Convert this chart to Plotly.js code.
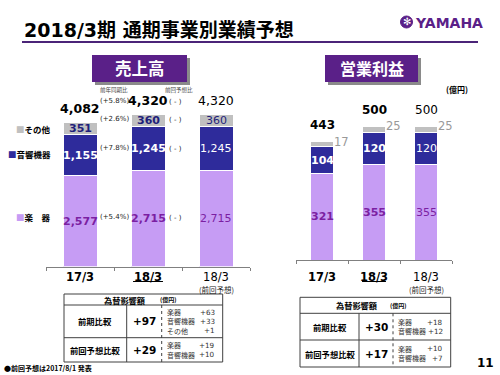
<!DOCTYPE html>
<html>
<head>
<meta charset="utf-8">
<script src="https://cdn.plot.ly/plotly-3.0.1.min.js"></script>
<style>html,body{margin:0;padding:0;background:#fff;}#chart{width:500px;height:375px;}</style>
</head>
<body>
<div id="chart"></div>
<script>
// ---------- data ----------
const categories = ['17/3', '18/3', '18/3予想'];
const tickLabels = ['<b>17/3</b>', '<b>18/3</b>', '18/3'];
const prevForecastNote = '(前回予想)';
const seriesNames = ['楽　器', '音響機器', 'その他'];

const salesInstruments = [2577, 2715, 2715];
const salesAudio = [1155, 1245, 1245];
const salesOther = [351, 360, 360];
const salesTotal = [4082, 4320, 4320];

const opInstruments = [321, 355, 355];
const opAudio = [104, 120, 120];
const opOther = [17, 25, 25];
const opTotal = [443, 500, 500];

// growth labels (18/3 vs 17/3 and vs previous forecast): total, other, audio, instruments
const yoyLabels = ['(+5.8%)', '(+2.6%)', '(+7.8%)', '(+5.4%)'];
const vsPrevLabels = ['( - )', '( - )', '( - )', '( - )'];

const titleText = '2018/3期 通期事業別業績予想';
const salesHeader = '売上高';
const opHeader = '営業利益';
const unitText = '(億円)';

// FX impact tables
const fxHeader = '為替影響額';
const fxRowNames = ['前期比較', '前回予想比較'];
const fxSalesTotal = ['+97', '+29'];
const fxSalesNames = [['楽器', '音響機器', 'その他'], ['楽器', '音響機器']];
const fxSalesVals = [['+63', '+33', '+1'], ['+19', '+10']];
const fxOpTotal = ['+30', '+17'];
const fxOpNames = [['楽器', '音響機器'], ['楽器', '音響機器']];
const fxOpVals = [['+18', '+12'], ['+10', '+7']];

const footnote = '●前回予想は2017/8/1 発表';
const pageNo = '11';

// ---------- styles ----------
const C_INST = '#C69CF4', C_AUDIO = '#2E2B9B', C_OTHER = '#C0C0C0';
const T_INST = '#7B1FA2', T_AUDIO = '#FFFFFF', T_OTHER = '#1F1F7A';
const PURPLE = '#5A2088';
const JP = '"Noto Sans CJK JP", sans-serif';
const NUM = '"DejaVu Sans", "Noto Sans CJK JP", sans-serif';
const W = 500, H = 375;
const px = v => v / W, py = v => 1 - v / H;
const fmt = v => v.toLocaleString('en-US');

function pann(text, x, y, size, opt) {
  opt = opt || {};
  return Object.assign({
    text: text, xref: 'paper', yref: 'paper', x: px(x), y: py(y), showarrow: false,
    xanchor: 'center', yanchor: 'middle',
    font: {family: opt.family || JP, size: size, color: opt.color || '#000'}
  }, opt.extra || {});
}

// ---------- traces ----------
function bar(x, y, color, xa, ya, width) {
  return {type: 'bar', x: x, y: y, xaxis: xa, yaxis: ya, width: width,
    marker: {color: color, line: {color: '#fff', width: 1}}, hoverinfo: 'skip', showlegend: false};
}
const traces = [
  bar(categories, salesInstruments, C_INST, 'x', 'y', 0.5),
  bar(categories, salesAudio, C_AUDIO, 'x', 'y', 0.5),
  bar(categories, salesOther, C_OTHER, 'x', 'y', 0.5),
  bar(categories, opInstruments, C_INST, 'x2', 'y2', 0.46),
  bar(categories, opAudio, C_AUDIO, 'x2', 'y2', 0.46),
  bar(categories, opOther, C_OTHER, 'x2', 'y2', 0.46)
];

// ---------- annotations ----------
const annotations = [];
const b = (t, j) => j === 2 ? t : '<b>' + t + '</b>';

// left segment labels
const leftSegs = [[salesInstruments, T_INST], [salesAudio, T_AUDIO], [salesOther, T_OTHER]];
const leftMid = [[], [], []];
categories.forEach((c, j) => {
  let base = 0;
  leftSegs.forEach((s, i) => {
    const v = s[0][j];
    leftMid[i][j] = base + v / 2;
    annotations.push({xref: 'x', yref: 'y', x: j, y: base + v / 2, text: b(fmt(v), j), showarrow: false,
      yanchor: 'middle', font: {family: NUM, size: 11, color: s[1]}});
    base += v;
  });
  annotations.push({xref: 'x', yref: 'y', x: j, y: salesTotal[j], yshift: 14, text: b(fmt(salesTotal[j]), j),
    showarrow: false, yanchor: 'middle', font: {family: NUM, size: 12.5, color: '#000'}});
});

// right segment labels
const rightSegs = [[opInstruments, T_INST], [opAudio, T_AUDIO]];
categories.forEach((c, j) => {
  let base = 0;
  rightSegs.forEach(s => {
    const v = s[0][j];
    annotations.push({xref: 'x2', yref: 'y2', x: j, y: base + v / 2, text: b(fmt(v), j), showarrow: false,
      yanchor: 'middle', font: {family: NUM, size: 11, color: s[1]}});
    base += v;
  });
  annotations.push({xref: 'x2', yref: 'y2', x: j + 0.38, y: base + opOther[j], text: fmt(opOther[j]),
    showarrow: false, yanchor: 'middle', font: {family: NUM, size: 11.5, color: '#999'}});
  annotations.push({xref: 'x2', yref: 'y2', x: j, y: opTotal[j], yshift: 16, text: b(fmt(opTotal[j]), j),
    showarrow: false, yanchor: 'middle', font: {family: NUM, size: 12, color: '#000'}});
});

// "(前回予想)" notes under the previous-forecast category
['x', 'x2'].forEach(xr => {
  annotations.push({xref: xr, yref: 'paper', x: 2, y: py(289), yanchor: 'middle', text: prevForecastNote,
    showarrow: false, font: {family: JP, size: 7.5, color: '#222'}});
});

// growth labels
const growthY = [salesTotal[1], leftMid[2][1], leftMid[1][1], leftMid[0][1]];
const growthShift = [13, 1, 1, 2];
growthY.forEach((y, k) => {
  annotations.push({xref: 'x', yref: 'y', x: 0.5, y: y, yshift: growthShift[k], text: yoyLabels[k], showarrow: false,
    yanchor: 'middle', font: {family: NUM, size: 7, color: '#222'}});
  annotations.push({xref: 'x', yref: 'y', x: 1.4, y: y, yshift: growthShift[k] - 1, text: vsPrevLabels[k], showarrow: false,
    yanchor: 'middle', font: {family: NUM, size: 7, color: '#222'}});
});
annotations.push({xref: 'x', yref: 'y', x: 0.5, y: salesTotal[1], yshift: 24, text: '前年同期比', showarrow: false,
  yanchor: 'middle', font: {family: JP, size: 5.5, color: '#444'}});
annotations.push({xref: 'x', yref: 'y', x: 1.46, y: salesTotal[1], yshift: 24, text: '前回予想比', showarrow: false,
  yanchor: 'middle', font: {family: JP, size: 5.5, color: '#444'}});

// left legend labels
const legColors = [C_INST, C_AUDIO, C_OTHER];
seriesNames.forEach((n, i) => {
  annotations.push({xref: 'paper', yref: 'y', x: px(53), xanchor: 'right', yanchor: 'middle', y: leftMid[i][0],
    yshift: i === 0 ? 4 : (i === 1 ? 1 : 0),
    text: '<span style="color:' + legColors[i] + '">■</span><b>' + n + '</b>', showarrow: false,
    font: {family: JP, size: 8.5, color: '#000'}});
});

// title, logo, headers
annotations.push(pann('<b>' + titleText + '</b>', 22, 29.5, 19, {family: NUM, extra: {xanchor: 'left'}}));
annotations.push(pann('<b>YAMAHA</b>', 413, 23.5, 14, {family: NUM, color: PURPLE, extra: {xanchor: 'left'}}));
annotations.push(pann('✻', 406.5, 22, 10, {family: NUM, color: '#fff'}));
annotations.push(pann('<b>' + salesHeader + '</b>', 139.5, 68.5, 16.5, {color: '#fff'}));
annotations.push(pann('<b>' + opHeader + '</b>', 371.5, 68.5, 16, {color: '#fff'}));
annotations.push(pann('<b>' + unitText + '</b>', 457, 89, 8));

// tables
const shapes = [];
function line(x0, y0, x1, y1, dash) {
  shapes.push({type: 'line', xref: 'paper', yref: 'paper', x0: px(x0), y0: py(y0), x1: px(x1), y1: py(y1),
    line: {color: '#404040', width: 1, dash: dash || 'solid'}});
}
function table(t, totals, names, vals) {
  shapes.push({type: 'rect', xref: 'paper', yref: 'paper', x0: px(t.x0), x1: px(t.x1), y0: py(t.y0), y1: py(t.y3),
    line: {color: '#404040', width: 1}});
  line(t.x0, t.y1, t.x1, t.y1);
  line(t.x0, t.y2, t.x1, t.y2);
  line(t.c1, t.y1, t.c1, t.y3);
  line(t.c2, t.y1, t.c2, t.y3, 'dot');
  annotations.push(pann('<b>' + fxHeader + '</b>', t.hx, (t.y0 + t.y1) / 2, 8.2));
  annotations.push(pann('<b>' + unitText + '</b>', t.ux, (t.y0 + t.y1) / 2, 6));
  const rows = [[t.y1, t.y2], [t.y2, t.y3]];
  rows.forEach((r, k) => {
    const cy = (r[0] + r[1]) / 2;
    annotations.push(pann('<b>' + fxRowNames[k] + '</b>', (t.x0 + t.c1) / 2, cy, 8.3));
    annotations.push(pann('<b>' + totals[k] + '</b>', (t.c1 + t.c2) / 2, cy, 10.5, {family: NUM}));
    const n = names[k].length;
    names[k].forEach((nm, m) => {
      const y = cy + (m - (n - 1) / 2) * 9.3;
      annotations.push(pann(nm, t.c2 + 3, y, 7, {color: '#333', extra: {xanchor: 'left'}}));
      annotations.push(pann(vals[k][m], t.x1 - 6, y, 7.2, {family: NUM, color: '#333', extra: {xanchor: 'right'}}));
    });
  });
}
table({x0: 64, x1: 222.7, y0: 294, y1: 305, y2: 337.7, y3: 362, c1: 126.7, c2: 161.7, hx: 125, ux: 168},
  fxSalesTotal, fxSalesNames, fxSalesVals);
table({x0: 300, x1: 450.7, y0: 297.3, y1: 313.3, y2: 340, y3: 367, c1: 359, c2: 393, hx: 357, ux: 398},
  fxOpTotal, fxOpNames, fxOpVals);

annotations.push(pann('<b>' + footnote + '</b>', 2, 368, 7, {extra: {xanchor: 'left'}}));
annotations.push(pann('<b>' + pageNo + '</b>', 485, 363, 12, {family: NUM}));

// decorative shapes
function rect(x0, y0, x1, y1, fill) {
  shapes.push({type: 'rect', xref: 'paper', yref: 'paper', x0: px(x0), x1: px(x1), y0: py(y0), y1: py(y1),
    fillcolor: fill, line: {width: 0}, layer: 'below'});
}
// header boxes with shadow
rect(95, 58, 190, 85, '#8a8a8a');
rect(92, 55, 187, 82, PURPLE);
rect(328, 58, 421, 85, '#8a8a8a');
rect(325, 55, 418, 82, PURPLE);
// title rule
shapes.push({type: 'line', xref: 'paper', yref: 'paper', x0: px(22), x1: px(478), y0: py(42), y1: py(42),
  line: {color: '#4B2478', width: 2}});
// logo emblem
shapes.push({type: 'circle', xref: 'paper', yref: 'paper', x0: px(400.5), x1: px(412.5), y0: py(16), y1: py(28),
  fillcolor: PURPLE, line: {color: PURPLE, width: 1}});
// underline for current year labels
shapes.push({type: 'line', xref: 'x', yref: 'paper', x0: 0.78, x1: 1.22, y0: py(281.5), y1: py(281.5), line: {color: '#000', width: 1}});
shapes.push({type: 'line', xref: 'x2', yref: 'paper', x0: 0.77, x1: 1.23, y0: py(281.5), y1: py(281.5), line: {color: '#000', width: 1}});

// ---------- layout ----------
function xaxis(domain, anchor, standoff) {
  return {domain: domain, anchor: anchor, type: 'category', range: [-0.5, 2.5],
    showline: true, linecolor: '#808080', linewidth: 1, ticks: 'outside', tickson: 'boundaries', ticklen: 3,
    tickcolor: '#808080', tickmode: 'array', tickvals: categories, ticktext: tickLabels,
    ticklabelstandoff: standoff, tickfont: {family: NUM, size: 11.5, color: '#000'},
    showgrid: false, zeroline: false, fixedrange: true};
}
const layout = {
  width: W, height: H, autosize: false,
  margin: {l: 0, r: 0, t: 0, b: 0},
  paper_bgcolor: '#fff', plot_bgcolor: 'rgba(0,0,0,0)',
  barmode: 'stack', showlegend: false,
  xaxis: xaxis([px(46), px(250)], 'y', 0),
  yaxis: {domain: [py(266.5), py(90)], range: [0, 5000], visible: false, fixedrange: true},
  xaxis2: xaxis([px(296), px(452)], 'y2', 6),
  yaxis2: {domain: [py(260), py(100)], range: [0, 597], visible: false, fixedrange: true},
  annotations: annotations,
  shapes: shapes
};
Plotly.newPlot('chart', traces, layout, {staticPlot: true, displayModeBar: false});
</script>
</body>
</html>
